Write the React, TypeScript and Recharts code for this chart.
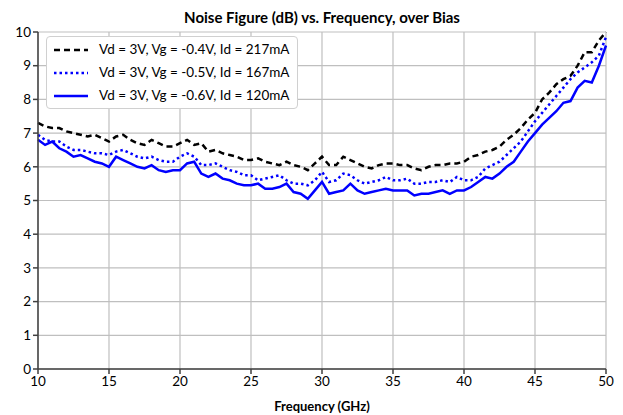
import React from 'react';
import { LineChart, Line, XAxis, YAxis, CartesianGrid } from 'recharts';

const freq = [10, 10.5, 11, 11.5, 12, 12.5, 13, 13.5, 14, 14.5, 15, 15.5, 16, 16.5, 17, 17.5, 18, 18.5, 19, 19.5, 20, 20.5, 21, 21.5, 22, 22.5, 23, 23.5, 24, 24.5, 25, 25.5, 26, 26.5, 27, 27.5, 28, 28.5, 29, 29.5, 30, 30.5, 31, 31.5, 32, 32.5, 33, 33.5, 34, 34.5, 35, 35.5, 36, 36.5, 37, 37.5, 38, 38.5, 39, 39.5, 40, 40.5, 41, 41.5, 42, 42.5, 43, 43.5, 44, 44.5, 45, 45.5, 46, 46.5, 47, 47.5, 48, 48.5, 49, 49.5, 50];

const nf217 = [7.3, 7.2, 7.15, 7.15, 7.05, 7.0, 6.95, 6.9, 6.95, 6.85, 6.75, 6.9, 6.95, 6.8, 6.7, 6.65, 6.8, 6.7, 6.6, 6.6, 6.7, 6.8, 6.65, 6.7, 6.45, 6.5, 6.4, 6.35, 6.3, 6.2, 6.2, 6.25, 6.15, 6.1, 6.05, 6.15, 6.05, 6.0, 5.9, 6.1, 6.3, 6.05, 6.05, 6.3, 6.2, 6.1, 6.0, 5.95, 6.05, 6.1, 6.1, 6.05, 6.05, 5.95, 5.9, 6.0, 6.05, 6.05, 6.1, 6.1, 6.15, 6.3, 6.35, 6.45, 6.5, 6.6, 6.8, 6.95, 7.15, 7.4, 7.6, 8.0, 8.2, 8.45, 8.6, 8.7, 9.0, 9.4, 9.4, 9.75, 10.0];

const nf167 = [6.95, 6.8, 6.75, 6.75, 6.6, 6.5, 6.5, 6.45, 6.4, 6.4, 6.35, 6.45, 6.5, 6.4, 6.3, 6.25, 6.3, 6.2, 6.15, 6.15, 6.3, 6.4, 6.3, 6.05, 6.05, 6.1, 6.0, 5.9, 5.85, 5.75, 5.75, 5.6, 5.65, 5.7, 5.75, 5.6, 5.5, 5.5, 5.45, 5.6, 5.85, 5.55, 5.6, 5.8, 5.75, 5.6, 5.5, 5.55, 5.6, 5.7, 5.6, 5.6, 5.65, 5.5, 5.5, 5.55, 5.55, 5.6, 5.55, 5.7, 5.6, 5.6, 5.7, 5.95, 6.05, 6.15, 6.35, 6.55, 6.75, 7.05, 7.35, 7.6, 7.85, 8.1, 8.35, 8.6, 8.8, 8.95, 9.1, 9.3, 9.85];

const nf120 = [6.8, 6.65, 6.75, 6.55, 6.45, 6.3, 6.35, 6.25, 6.15, 6.1, 6.0, 6.3, 6.2, 6.1, 6.0, 5.95, 6.05, 5.9, 5.85, 5.9, 5.9, 6.1, 6.15, 5.8, 5.7, 5.8, 5.65, 5.6, 5.5, 5.45, 5.45, 5.5, 5.35, 5.35, 5.4, 5.5, 5.25, 5.2, 5.05, 5.3, 5.55, 5.2, 5.25, 5.3, 5.5, 5.3, 5.2, 5.25, 5.3, 5.35, 5.3, 5.3, 5.3, 5.15, 5.2, 5.2, 5.25, 5.3, 5.2, 5.3, 5.3, 5.4, 5.55, 5.7, 5.65, 5.8, 6.0, 6.15, 6.45, 6.75, 7.0, 7.25, 7.45, 7.65, 7.9, 7.95, 8.35, 8.55, 8.5, 9.0, 9.6];

const xTicks = [10, 15, 20, 25, 30, 35, 40, 45, 50];
const yTicks = [0, 1, 2, 3, 4, 5, 6, 7, 8, 9, 10];

const seriesNames = [
  'Vd = 3V, Vg = -0.4V, Id = 217mA',
  'Vd = 3V, Vg = -0.5V, Id = 167mA',
  'Vd = 3V, Vg = -0.6V, Id = 120mA',
];

const data = freq.map((f, i) => ({ f, a: nf217[i], b: nf167[i], c: nf120[i] }));

const FONT = 'Lato, "Open Sans", sans-serif';

const legendStyles = [
  { stroke: '#000000', dash: '6 4' },
  { stroke: '#0000ff', dash: '2.5 3' },
  { stroke: '#0000ff', dash: undefined },
];

const LegendBox = () => (
  <div
    style={{
      position: 'absolute',
      left: 38,
      top: 28,
      zIndex: 2,
      background: '#ffffff',
      border: '1px solid #d0d0d0',
      borderRadius: 4,
      padding: '1px 8px 1px 6px',
      fontFamily: FONT,
      fontSize: 13.5,
      color: '#000',
      lineHeight: '23px',
    }}
  >
    {seriesNames.map((n, i) => (
      <div key={n} style={{ display: 'flex', alignItems: 'center', whiteSpace: 'nowrap' }}>
        <svg width={36} height={10} style={{ marginRight: 10 }}>
          <line
            x1={1}
            y1={5}
            x2={35}
            y2={5}
            stroke={legendStyles[i].stroke}
            strokeWidth={2.5}
            strokeDasharray={legendStyles[i].dash}
          />
        </svg>
        <span>{n}</span>
      </div>
    ))}
  </div>
);

export default function App() {
  return (
    <div style={{ width: 615, height: 407, position: 'relative', fontFamily: FONT }}>
      <div
        style={{
          position: 'absolute',
          top: 0,
          left: 30,
          width: 568,
          textAlign: 'center',
          fontWeight: 700,
          fontSize: 15,
          lineHeight: '18px',
          color: '#000',
        }}
      >
        Noise Figure (dB) vs. Frequency, over Bias
      </div>
      <LegendBox />
      <LineChart width={615} height={407} data={data} margin={{ top: 24, right: 17, left: 0, bottom: 0 }}>
        <CartesianGrid stroke="#bfbfbf" strokeWidth={1.2} />
        <XAxis
          dataKey="f"
          type="number"
          domain={[10, 50]}
          ticks={xTicks}
          interval={0}
          height={46}
          tickSize={5}
          stroke="#404040"
          strokeWidth={1.5}
          tick={{ fill: '#000', fontSize: 13.5, fontFamily: FONT }}
          label={{ value: 'Frequency (GHz)', position: 'insideBottom', offset: 4, fill: '#000', fontSize: 13, fontWeight: 700, fontFamily: FONT }}
        />
        <XAxis xAxisId="top" orientation="top" dataKey="f" type="number" domain={[10, 50]} height={0} tick={false} tickLine={false} stroke="#404040" strokeWidth={1.5} />
        <YAxis
          type="number"
          domain={[0, 10]}
          ticks={yTicks}
          interval={0}
          width={30}
          tickSize={5}
          stroke="#404040"
          strokeWidth={1.5}
          tick={{ fill: '#000', fontSize: 13.5, fontFamily: FONT }}
        />
        <YAxis yAxisId="right" orientation="right" domain={[0, 10]} width={0} tick={false} tickLine={false} stroke="#404040" strokeWidth={1.5} />
        <Line type="linear" dataKey="a" name={seriesNames[0]} stroke="#000000" strokeWidth={2.5} strokeDasharray="6 4" dot={false} isAnimationActive={false} />
        <Line type="linear" dataKey="b" name={seriesNames[1]} stroke="#0000ff" strokeWidth={2.5} strokeDasharray="2.5 3" dot={false} isAnimationActive={false} />
        <Line type="linear" dataKey="c" name={seriesNames[2]} stroke="#0000ff" strokeWidth={2.5} dot={false} isAnimationActive={false} />
      </LineChart>
    </div>
  );
}
